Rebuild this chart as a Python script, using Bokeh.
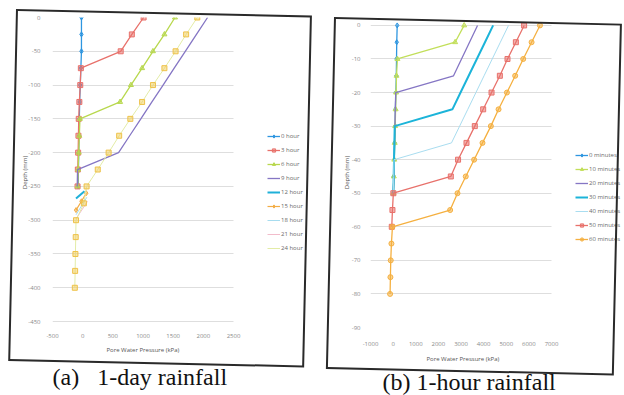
from bokeh.plotting import figure
from bokeh.models import (Legend, LegendItem, Title, FixedTicker, Range1d,
                          InlineStyleSheet, BoxAnnotation)
from bokeh.layouts import row
from bokeh.embed import file_html
from bokeh.resources import INLINE

# ---------------- data: panel (a) 1-day rainfall ----------------
a_depth = [0, -25, -50, -75, -100, -125, -150, -175, -200, -225, -250,
           -275, -300, -325, -350, -375, -400]
a_h0 = [-20, -20, -20, -30, -40, -50, -55, -60, -65, -70, -75]
a_h3 = [1010, 815, 630, -30, -40, -55, -65, -70, -75, -80, -85]
a_h6 = [1530, 1355, 1165, 985, 800, 620, -45, -55, -65, -75, -85]
a_h9 = [2070, 1886, 1701, 1517, 1333, 1148, 964, 779, 595, -85, -90]
a_h12_depth = [-257, -268]
a_h12 = [30, -110]
a_h15_depth = [-260, -272, -285]
a_h15 = [60, -20, -110]
a_h18_depth = [-266, -292]
a_h18 = [70, -110]
a_h21_depth = [-272, -298]
a_h21 = [80, -110]
a_h24 = [1900, 1715, 1540, 1355, 1165, 985, 790, 605, 430, 250, 65, 20,
         -110, -115, -120, -125, -130]
a_names = ["0 hour", "3 hour", "6 hour", "9 hour", "12 hour", "15 hour",
           "18 hour", "21 hour", "24 hour"]
a_xticks = [-500, 0, 500, 1000, 1500, 2000, 2500]
a_yticks = [0, -50, -100, -150, -200, -250, -300, -350, -400, -450]
a_xlabels = ["-500", "0", "500", "1000", "1500", "2000", "2500"]
a_ylabels = ["0", "-50", "-100", "-150", "-200", "-250", "-300", "-350", "-400", "-450"]

# ---------------- data: panel (b) 1-hour rainfall ----------------
b_depth = [0, -5, -10, -15, -20, -25, -30, -35, -40, -45, -50, -55, -60,
           -65, -70, -75, -80]
b_m0 = [180, 160, 150, 140, 120, 100, 90, 70, 50, 30, 10]
b_m10 = [3140, 2740, 190, 150, 130, 110, 90, 70, 50, 30, 10]
b_m20 = [3730, 3377, 3023, 2670, 115, 95, 80, 60, 45, 30, 10]
b_m30 = [4420, 4060, 3700, 3340, 2980, 2620, 70, 55, 40, 25, 10]
b_m40 = [5100, 4740, 4380, 4020, 3660, 3300, 2940, 2580, 40, 25, 10]
b_m50 = [5790, 5425, 5055, 4717, 4350, 3980, 3610, 3243, 2870, 2550, 10, -30, -60]
b_m60 = [6490, 6120, 5750, 5395, 5030, 4660, 4320, 3950, 3580, 3210, 2845,
         2520, -30, -75, -105, -120, -135]
b_names = ["0 minutes", "10 minutes", "20 minutes", "30 minutes",
           "40 minutes", "50 minutes", "60 minutes"]
b_xticks = [-1000, 0, 1000, 2000, 3000, 4000, 5000, 6000, 7000]
b_yticks = [0, -10, -20, -30, -40, -50, -60, -70, -80, -90]
b_xlabels = ["-1000", "0", "1000", "2000", "3000", "4000", "5000", "6000", "7000"]
b_ylabels = ["0", "-10", "-20", "-30", "-40", "-50", "-60", "-70", "-80", "-90"]

x_title = "Pore Water Pressure (kPa)"
y_title = "Depth (mm)"
cap_a = "(a)\u00a0\u00a0\u00a01-day rainfall"
cap_b = "(b) 1-hour rainfall"

TICK_FONT = "Open Sans"
DATA_PX_W = 181          # pixel width of the plotted x span in each panel
FRAME_TOP, FRAME_BOTTOM = 17, 65   # shared borders (rows align frames)
FRAME_H = 395 - FRAME_TOP - FRAME_BOTTOM


def border_rule(pseudo, left, top, w, h, angle):
    return (f":host::{pseudo} {{ content: ''; position: absolute; "
            f"left: {left}px; top: {top}px; width: {w}px; height: {h}px; "
            "box-sizing: border-box; border: 2px solid #2a2a2a; "
            f"transform-origin: 0 0; transform: rotate({angle}deg); "
            "pointer-events: none; z-index: 5; }\n")


def make_panel(width, ml, xt, xl, yt, yl, pad_top, pad_bottom,
               ystand, xstand, ylab_stand):
    frame_w = width - ml
    x0, x1 = xt[0], xt[-1]
    x_end = x0 + (x1 - x0) * frame_w / DATA_PX_W
    y_top, y_bot = yt[0], yt[-1]
    upp = (y_top - y_bot) / (FRAME_H - pad_top - pad_bottom)
    y_start = y_bot - pad_bottom * upp
    y_end = y_top + pad_top * upp
    p = figure(width=width, height=395, x_range=Range1d(x0, x_end),
               y_range=Range1d(y_start, y_end), output_backend="svg",
               toolbar_location=None, title=None, min_border_left=ml,
               min_border_right=0, min_border_top=FRAME_TOP,
               min_border_bottom=FRAME_BOTTOM)
    p.xaxis.ticker = FixedTicker(ticks=xt)
    p.yaxis.ticker = FixedTicker(ticks=yt)
    p.xaxis.major_label_overrides = {t: l for t, l in zip(xt, xl)}
    p.yaxis.major_label_overrides = {t: l for t, l in zip(yt, yl)}
    for ax in (p.xaxis[0], p.yaxis[0]):
        ax.axis_line_color = None
        ax.major_tick_line_color = None
        ax.minor_tick_line_color = None
        ax.major_label_text_font = TICK_FONT
        ax.major_label_text_font_size = "6px"
        ax.major_label_text_color = "#8a8a8a"
        ax.axis_label_text_font = TICK_FONT
        ax.axis_label_text_font_size = "6px"
        ax.axis_label_text_font_style = "normal"
        ax.axis_label_text_color = "#555555"
    p.yaxis.axis_label = y_title
    p.yaxis.major_label_standoff = ystand
    p.xaxis.major_label_standoff = xstand
    p.yaxis.axis_label_standoff = ylab_stand
    p.xgrid.grid_line_color = None
    p.ygrid.grid_line_color = "#dedede"
    p.ygrid.grid_line_width = 1
    p.outline_line_color = None
    p.background_fill_color = "white"
    p.border_fill_color = "white"
    # blank the grid to the right of the plotted span (legend area)
    p.add_layout(BoxAnnotation(left=x1, right=x_end, top=y_end, bottom=y_start,
                               fill_color="white", fill_alpha=1,
                               line_color=None))
    return p


def add_series(p, xs, ys, color, marker, lw):
    rs = [p.line(xs, ys, line_color=color, line_width=lw)]
    if marker:
        rs.append(p.scatter(xs, ys, marker=marker, size=5, fill_color=color,
                            fill_alpha=0.55, line_color=color, line_width=1))
    return rs


def make_legend(items, vx, vy, spacing):
    return Legend(items=items, location=(vx, vy), orientation="vertical",
                  padding=0, margin=0, spacing=spacing, glyph_height=8,
                  glyph_width=13, label_height=8, label_standoff=1,
                  label_text_font=TICK_FONT, label_text_font_size="6px",
                  label_text_color="#6a6a6a", border_line_color=None,
                  background_fill_alpha=0)


def xtitle(offset, standoff):
    return Title(text=x_title, align="left", offset=offset,
                 text_font=TICK_FONT, text_font_size="6px",
                 text_font_style="normal", text_color="#555555",
                 standoff=standoff)


def caption(text, offset, standoff):
    return Title(text=text, align="left", offset=offset,
                 text_font="Liberation Serif", text_font_size="24px",
                 text_font_style="normal", text_color="#111111",
                 standoff=standoff)


# ---------------- panel (a) ----------------
pa = make_panel(324, 52, a_xticks, a_xlabels, a_yticks, a_ylabels,
                0, 6, 6, 0, -4)
a_specs = [
    (a_h0, a_depth[:len(a_h0)], "#2e96e0", "diamond", 1.3),
    (a_h3, a_depth[:len(a_h3)], "#e8716b", "square", 1.3),
    (a_h6, a_depth[:len(a_h6)], "#b8d84e", "triangle", 1.3),
    (a_h9, a_depth[:len(a_h9)], "#8576c4", None, 1.3),
    (a_h12, a_h12_depth, "#1fb0d8", None, 2.0),
    (a_h15, a_h15_depth, "#f3ad45", "diamond", 1.2),
    (a_h18, a_h18_depth, "#a7dcef", None, 1.0),
    (a_h21, a_h21_depth, "#f2bccb", None, 1.0),
    (a_h24, a_depth, "#e3eca6", None, 1.0),
]
a_items = []
for name, (xs, ys, c, m, lw) in zip(a_names, a_specs):
    rs = add_series(pa, xs, ys, c, m, lw)
    a_items.append(LegendItem(label=name, renderers=rs))
# gold square markers on the 24 hour profile
pa.scatter(a_h24, a_depth, marker="square", size=5, fill_color="#f2cc55",
           fill_alpha=0.5, line_color="#eec24a", line_width=1)
pa.add_layout(make_legend(a_items, 215, 75, 6))
pa.add_layout(xtitle(54, 6), "below")
pa.add_layout(caption(cap_a, 0, 11), "below")

# ---------------- panel (b) ----------------
pb = make_panel(300, 46, b_xticks, b_xlabels, b_yticks, b_ylabels,
                8, 0, 4, 8, -2)
b_specs = [
    (b_m0, "#2e96e0", "diamond", 1.3),
    (b_m10, "#c2df5a", "triangle", 1.3),
    (b_m20, "#8576c4", None, 1.3),
    (b_m30, "#1cb4d9", None, 2.0),
    (b_m40, "#a9ddf0", None, 1.0),
    (b_m50, "#e8716b", "square", 1.3),
    (b_m60, "#f5b040", "circle", 1.3),
]
b_items = []
for name, (xs, c, m, lw) in zip(b_names, b_specs):
    rs = add_series(pb, xs, b_depth[:len(xs)], c, m, lw)
    b_items.append(LegendItem(label=name, renderers=rs))
pb.add_layout(make_legend(b_items, 205, 84, 6))
pb.add_layout(xtitle(56, 8), "below")
pb.add_layout(caption(cap_b, 12, 0), "below")

row_css = InlineStyleSheet(css=(
    border_rule("before", 16, 9, 296, 352, 1.27)
    + border_rule("after", 334, 16.7, 288, 352, 1.32)))
layout = row(pa, pb, spacing=0, stylesheets=[row_css])
open("out.html", "w").write(file_html(layout, INLINE))
